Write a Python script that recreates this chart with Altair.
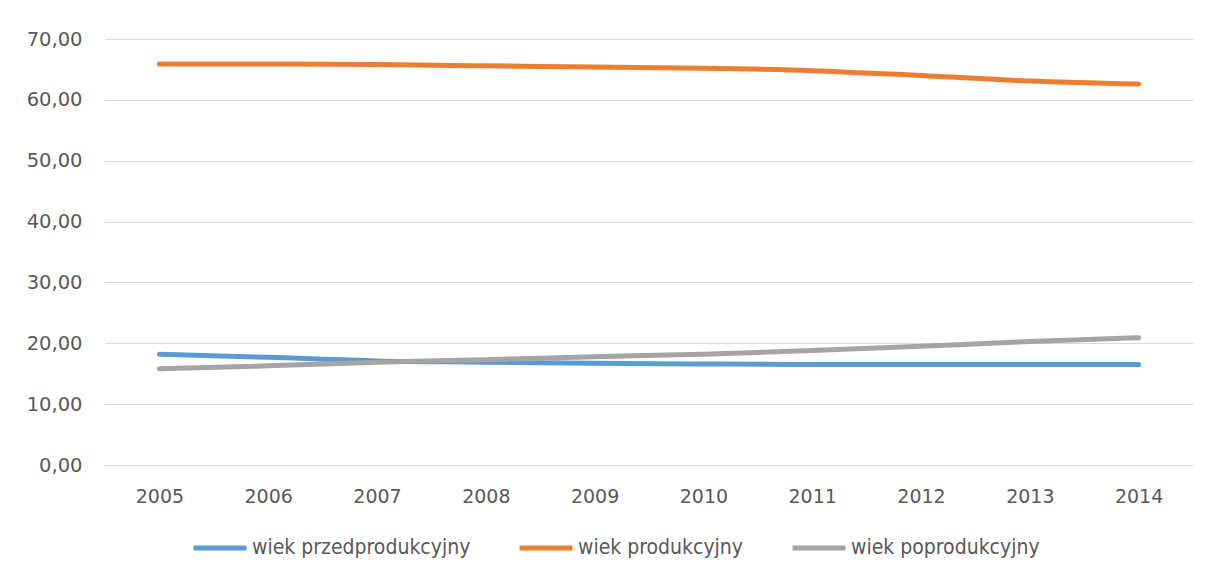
import altair as alt
import pandas as pd

years = ["2005", "2006", "2007", "2008", "2009", "2010", "2011", "2012", "2013", "2014"]
series = ["wiek przedprodukcyjny", "wiek produkcyjny", "wiek poprodukcyjny"]
przed = [18.2, 17.7, 17.1, 16.9, 16.7, 16.6, 16.5, 16.5, 16.5, 16.5]
prod = [65.9, 65.9, 65.8, 65.6, 65.4, 65.2, 64.8, 64.0, 63.1, 62.6]
popr = [15.8, 16.3, 16.9, 17.3, 17.8, 18.2, 18.8, 19.5, 20.3, 20.9]
colors = ["#5b9bd5", "#ed7d31", "#a5a5a5"]

rows = []
for name, vals in zip(series, [przed, prod, popr]):
    for i, (yr, v) in enumerate(zip(years, vals)):
        rows.append({"rok": yr, "seria": name, "wartosc": v})
df = pd.DataFrame(rows)

axis_font = "DejaVu Sans"
legend_font = "Liberation Sans Narrow, DejaVu Sans Condensed, Liberation Sans"

chart = alt.Chart(df).mark_line(
    interpolate="monotone", strokeWidth=5, strokeCap="round"
).encode(
    x=alt.X(
        "rok:O",
        scale=alt.Scale(type="point", padding=0.5),
        axis=alt.Axis(
            title=None, labelAngle=0, ticks=False, domain=True, domainColor="#d9d9d9",
            labelFont=axis_font, labelFontSize=19, labelColor="#595959", labelPadding=22,
        ),
    ),
    y=alt.Y(
        "wartosc:Q",
        scale=alt.Scale(domain=[0, 70], nice=False),
        axis=alt.Axis(
            title=None, values=[0, 10, 20, 30, 40, 50, 60, 70], ticks=False, domain=False,
            grid=True, gridColor="#d9d9d9", gridWidth=1,
            labelExpr="replace(format(datum.value, '.2f'), '.', ',')",
            labelFont=axis_font, labelFontSize=19.5, labelColor="#595959", labelPadding=23,
        ),
    ),
    color=alt.Color(
        "seria:N",
        sort=series,
        scale=alt.Scale(domain=series, range=colors),
        legend=alt.Legend(
            title=None, orient="none", legendX=86, legendY=480, direction="horizontal",
            symbolType="stroke", symbolSize=2800, symbolStrokeWidth=5,
            labelFont=legend_font, labelFontSize=21, labelColor="#595959",
            columnPadding=38, labelOffset=3, labelLimit=400,
        ),
    ),
    order=alt.Order("rok:O"),
).properties(
    width=1088,
    height=426,
    autosize=alt.AutoSizeParams(type="none"),
    padding={"left": 97, "top": 31, "right": 7, "bottom": 108},
).configure_view(stroke=None)

chart.save("out.html", embed_options={"renderer": "svg", "actions": False})
